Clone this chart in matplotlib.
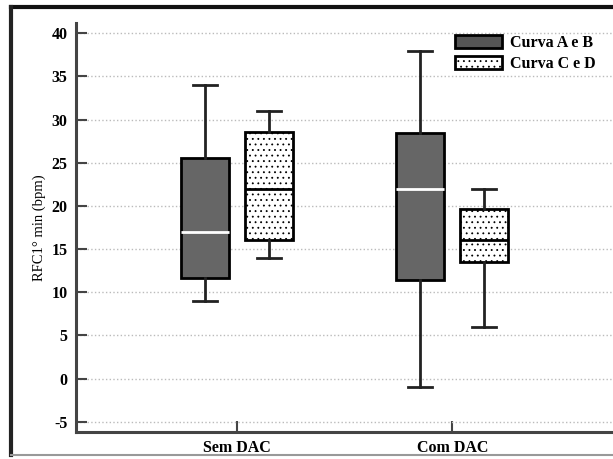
import matplotlib
matplotlib.use('Agg')
import matplotlib.pyplot as plt
from matplotlib.patches import Patch
from matplotlib.lines import Line2D

plt.rcParams['font.family'] = ['Liberation Serif', 'DejaVu Serif']
plt.rcParams['hatch.color'] = '#a8a8a8'
plt.rcParams['hatch.linewidth'] = 0.6

groups = ['Sem DAC', 'Com DAC']
series = ['Curva A e B', 'Curva C e D']

# five-number summaries per group: (whislo, q1, med, q3, whishi)
ab_stats = [(9, 11.6, 17, 25.6, 34), (-1, 11.4, 22, 28.4, 38)]
cd_stats = [(14, 16, 22, 28.6, 31), (6, 13.5, 16, 19.7, 22)]

yticks = [-5, 0, 5, 10, 15, 20, 25, 30, 35, 40]


def to_bxp(stats):
    return [dict(whislo=lo, q1=q1, med=med, q3=q3, whishi=hi, fliers=[])
            for lo, q1, med, q3, hi in stats]


fig = plt.figure(figsize=(6.13, 4.59), dpi=100)
ax = fig.add_axes([76 / 613, 27 / 459, 1 - 76 / 613, 409 / 459])

offset = 0.148
width = 0.222
line_kw = dict(color='#222222', linewidth=2)
dots = '...'

ax.bxp(to_bxp(ab_stats), positions=[i - offset for i in range(2)],
       widths=width, patch_artist=True, showfliers=False,
       boxprops=dict(facecolor='#666666', edgecolor='black', linewidth=2),
       whiskerprops=line_kw, capprops=line_kw, capwidths=0.111,
       medianprops=dict(color='white', linewidth=2))
ax.bxp(to_bxp(cd_stats), positions=[i + offset for i in range(2)],
       widths=width, patch_artist=True, showfliers=False,
       boxprops=dict(facecolor='white', edgecolor='black', linewidth=2,
                     hatch=dots),
       whiskerprops=line_kw, capprops=line_kw, capwidths=0.111,
       medianprops=dict(color='black', linewidth=2))

ax.set_xlim(-0.745, 1.745)
ax.set_ylim(-6.2, 41.2)
ax.set_xticks(range(len(groups)))
ax.set_xticklabels(groups, fontweight='bold', fontsize=11.5)
ax.set_yticks(yticks)
ax.set_yticklabels([str(v) for v in yticks], fontweight='bold', fontsize=11.5)
ax.tick_params(axis='both', direction='in', length=8, width=1.5,
               color='#444444', pad=6)
ax.yaxis.grid(True, linestyle=':', color='#bbbbbb', linewidth=1)
ax.set_axisbelow(True)
for side in ['top', 'right']:
    ax.spines[side].set_visible(False)
for side in ['left', 'bottom']:
    ax.spines[side].set_color('#444444')
    ax.spines[side].set_linewidth(2.2)

ax.set_ylabel('RFC1° min (bpm)', fontsize=10.5, labelpad=4)

handles = [Patch(facecolor='#555555', edgecolor='black', linewidth=2),
           Patch(facecolor='white', edgecolor='black', linewidth=2, hatch=dots)]
ax.legend(handles, series, loc='upper right', bbox_to_anchor=(0.985, 0.995),
          frameon=False, handlelength=2.9, handleheight=0.9,
          prop=dict(weight='bold', size=11.5), labelspacing=0.3,
          handletextpad=0.5, borderaxespad=0.2)

# border lines around the figure
fig.add_artist(Line2D([11 / 613, 1], [1 - 7 / 459, 1 - 7 / 459],
                      transform=fig.transFigure, color='#111111', linewidth=3))
fig.add_artist(Line2D([11 / 613, 11 / 613], [4 / 459, 1 - 7 / 459],
                      transform=fig.transFigure, color='#222222', linewidth=3))
fig.add_artist(Line2D([11 / 613, 1], [4 / 459, 4 / 459],
                      transform=fig.transFigure, color='#999999', linewidth=1.5))

fig.savefig('out.png', dpi=100)
